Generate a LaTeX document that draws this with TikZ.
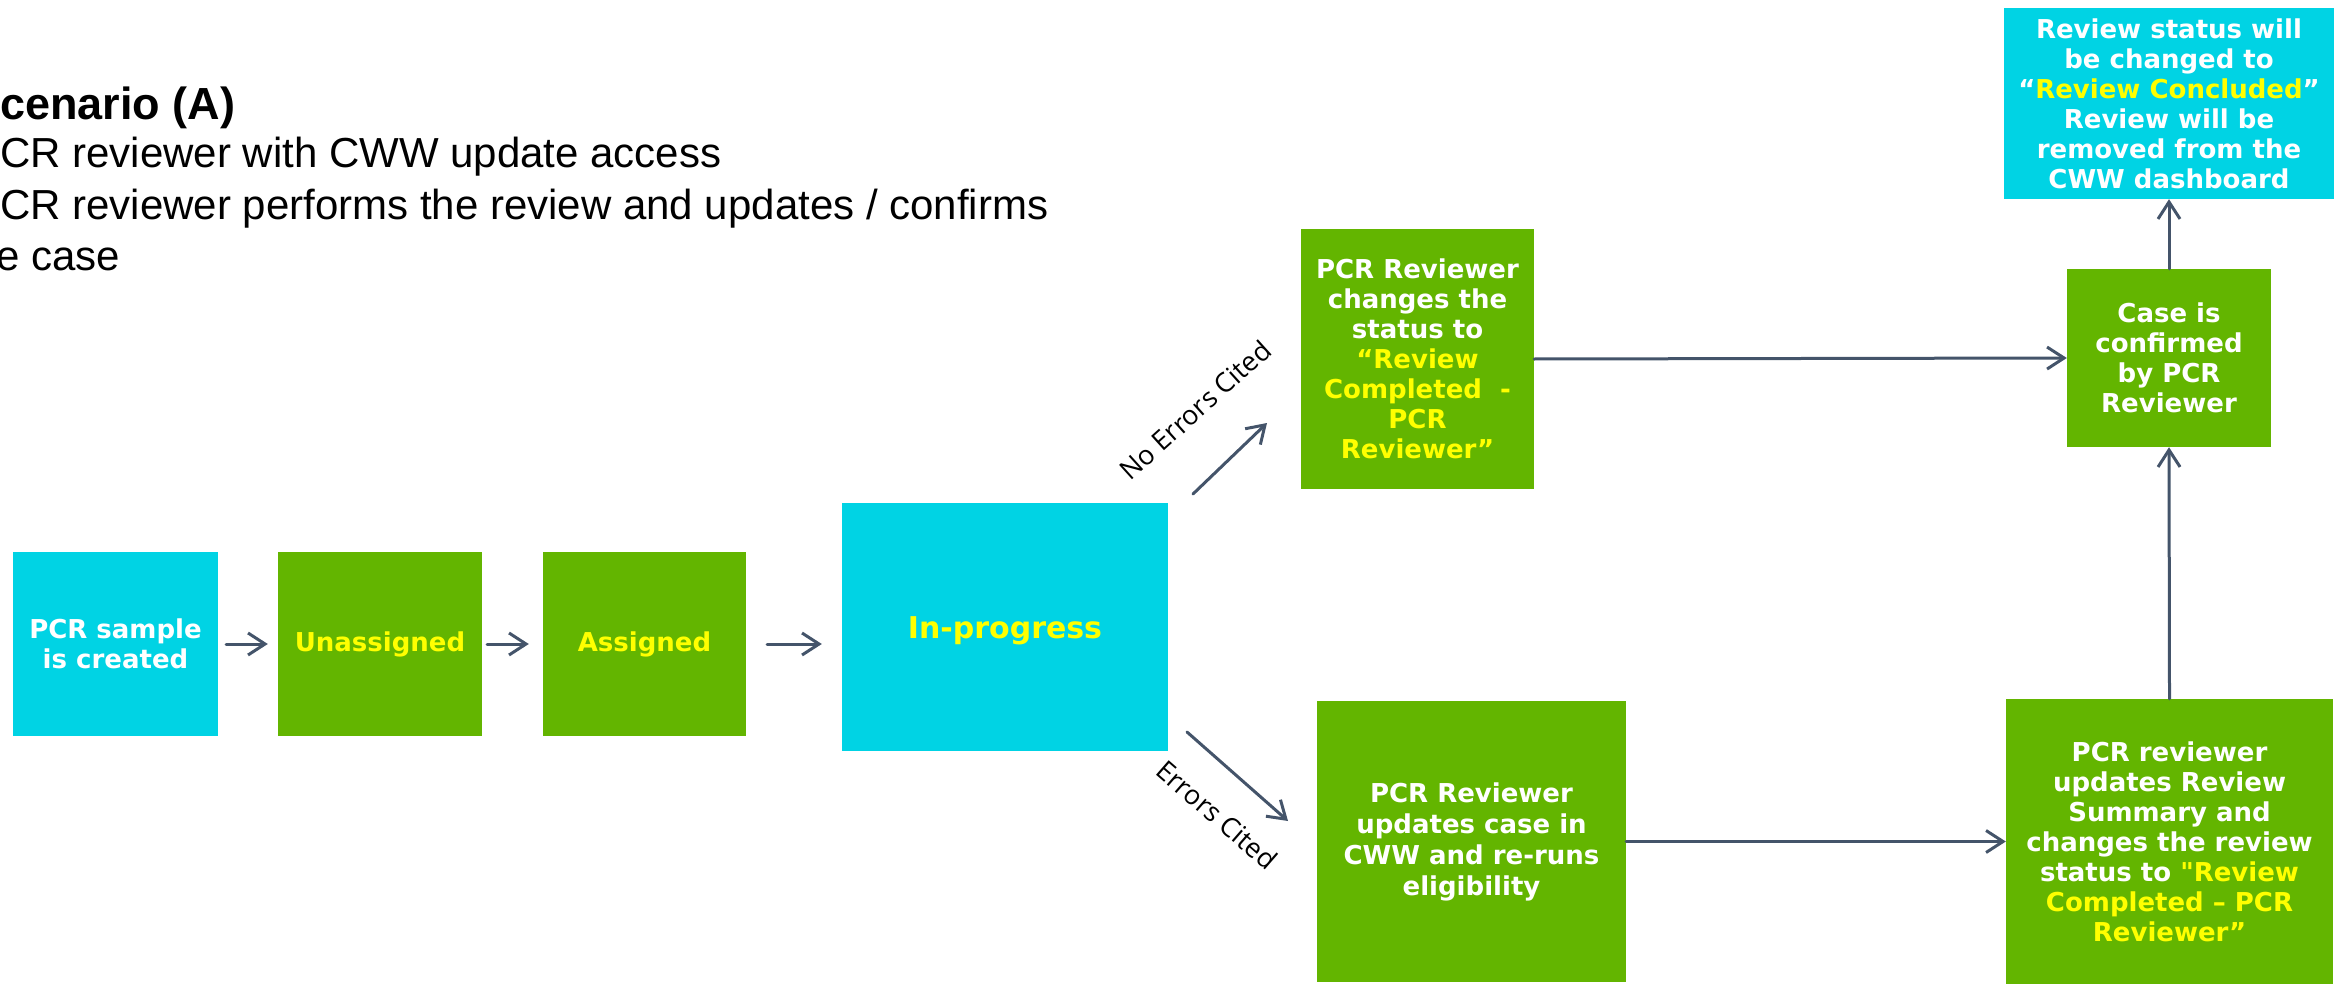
\documentclass[tikz,border=0pt]{standalone}
\usepackage{fontspec}
\setmainfont{Liberation Sans}
\newfontfamily\boxfont{DejaVu Sans}
\newfontfamily\labfont{Open Sans}
\usetikzlibrary{arrows.meta}
\definecolor{cy}{RGB}{0,211,228}
\definecolor{gr}{RGB}{99,181,0}
\definecolor{yl}{RGB}{255,255,0}
\definecolor{ar}{RGB}{68,84,106}
\begin{document}
\begin{tikzpicture}[x=1pt,y=-1pt,
  box/.style={rectangle, inner sep=0pt, align=center, text=white,
    font=\boxfont\bfseries\fontsize{26}{30}\selectfont},
  cybox/.style={box, fill=cy},
  grbox/.style={box, fill=gr},
  conn/.style={draw=ar, line width=3pt, line cap=round, -{Straight Barb[length=17pt,width=22pt]}},
  lab/.style={font=\labfont\fontsize{27}{32}\selectfont, text=black, inner sep=0pt},
  heading/.style={anchor=base west, inner sep=0pt, font=\bfseries\fontsize{45}{54}\selectfont},
  bodytext/.style={anchor=base west, inner sep=0pt, font=\fontsize{42}{50}\selectfont}]
\useasboundingbox (0,0) rectangle (2341,984);

% heading text
\node[heading] (title) at (0,120) {cenario (A)};
\node[bodytext] (l1) at (0,168) {CR reviewer with CWW update access};
\node[bodytext] (l2) at (0,220) {CR reviewer performs the review and updates / confirms};
\node[bodytext] (l3) at (-4,270) {e case};

% boxes
\node[cybox, minimum width=205pt, minimum height=184pt] (pcr) at (115.5,644) {PCR sample\\is created};
\node[grbox, minimum width=204pt, minimum height=184pt] (unas) at (380,644) {\textcolor{yl}{Unassigned}};
\node[grbox, minimum width=203pt, minimum height=184pt] (asg) at (644.5,644) {\textcolor{yl}{Assigned}};
\node[cybox, minimum width=326pt, minimum height=248pt, font=\boxfont\bfseries\fontsize{30}{36}\selectfont] (inprog) at (1005,627) {\raisebox{-4pt}[\height][\depth]{\textcolor{yl}{In-progress}}};
\node[grbox, minimum width=233pt, minimum height=260pt] (chg) at (1417.5,359)
  {PCR Reviewer\\changes the\\status to\\\textcolor{yl}{“Review}\\\textcolor{yl}{Completed\ \ -}\\\textcolor{yl}{PCR}\\\textcolor{yl}{Reviewer”}};
\node[grbox, minimum width=204pt, minimum height=178pt] (case) at (2169,358)
  {Case is\\confirmed\\by PCR\\Reviewer};
\node[cybox, minimum width=330pt, minimum height=191pt] (rev) at (2169,103.5)
  {Review status will\\be changed to\\“\textcolor{yl}{Review Concluded}”\\Review will be\\removed from the\\CWW dashboard};
\node[grbox, minimum width=309pt, minimum height=281pt, font=\boxfont\bfseries\fontsize{26}{31}\selectfont] (err) at (1471.5,841.5)
  {PCR Reviewer\\updates case in\\CWW and re-runs\\eligibility};
\node[grbox, minimum width=327pt, minimum height=285pt] (upd) at (2169.5,841.5)
  {PCR reviewer\\updates Review\\Summary and\\changes the review\\status to \textcolor{yl}{"Review}\\\textcolor{yl}{Completed – PCR}\\\textcolor{yl}{Reviewer”}};

% free ends of diagonal connectors
\coordinate (ne1) at (1193,494);
\coordinate (ne2) at (1267,423);
\coordinate (ec1) at (1187,732);
\coordinate (ec2) at (1288,821);

% connectors
\draw[conn, shorten <=8pt, shorten >=10pt] (pcr.east) -- (unas.west);
\draw[conn, shorten <=5pt, shorten >=14pt] (unas.east) -- (asg.west);
\draw[conn, shorten <=21pt, shorten >=20pt] (asg.east) -- (asg.east -| inprog.west);
\draw[conn] (ne1) -- (ne2);
\draw[conn] (ec1) -- (ec2);
\draw[conn] (chg.east) -- (case.west);
\draw[conn] (err.east) -- (upd.west);
\draw[conn] (upd.north) -- (case.south);
\draw[conn] (case.north) -- (rev.south);

% labels
\node[lab, rotate=42] (nolab) at (1195,410) {No Errors Cited};
\node[lab, rotate=-41] (elab) at (1217,815) {Errors Cited};
\end{tikzpicture}
\end{document}
